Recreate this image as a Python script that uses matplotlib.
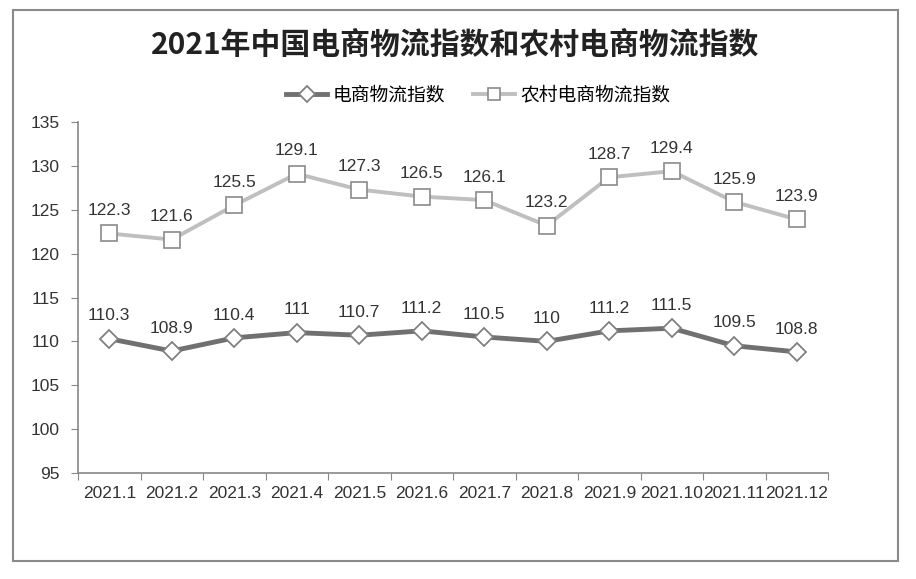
import matplotlib.pyplot as plt
from matplotlib.patches import Rectangle

plt.rcParams['font.family'] = ['Liberation Sans', 'Noto Sans CJK SC', 'DejaVu Sans']

months = ['2021.1', '2021.2', '2021.3', '2021.4', '2021.5', '2021.6',
          '2021.7', '2021.8', '2021.9', '2021.10', '2021.11', '2021.12']
ec_index = [110.3, 108.9, 110.4, 111, 110.7, 111.2, 110.5, 110, 111.2, 111.5, 109.5, 108.8]
rural_index = [122.3, 121.6, 125.5, 129.1, 127.3, 126.5, 126.1, 123.2, 128.7, 129.4, 125.9, 123.9]
ec_labels = ['110.3', '108.9', '110.4', '111', '110.7', '111.2', '110.5', '110', '111.2', '111.5', '109.5', '108.8']
rural_labels = ['122.3', '121.6', '125.5', '129.1', '127.3', '126.5', '126.1', '123.2', '128.7', '129.4', '125.9', '123.9']

fig = plt.figure(figsize=(9.16, 5.79), dpi=100)
fig.patch.set_facecolor('white')

# outer frame
fig.patches.append(Rectangle((13 / 916, 1 - 561 / 579), 885 / 916, 551 / 579,
                             transform=fig.transFigure, fill=False,
                             edgecolor='#8a8a8a', linewidth=1.5))

ax = fig.add_axes([78 / 916, 1 - 473 / 579, 750 / 916, 351 / 579])
x = list(range(len(months)))

ax.plot(x, ec_index, color='#707070', linewidth=3.5, marker='D', markersize=9,
        markerfacecolor='white', markeredgecolor='#808080', markeredgewidth=1.3,
        label='电商物流指数', zorder=3)
ax.plot(x, rural_index, color='#bfbfbf', linewidth=2.8, marker='s', markersize=11,
        markerfacecolor='white', markeredgecolor='#8a8a8a', markeredgewidth=1.2,
        label='农村电商物流指数', zorder=3)

for xi, v, t in zip(x, ec_index, ec_labels):
    ax.annotate(t, (xi, v), xytext=(0, 11), textcoords='offset points',
                ha='center', va='bottom', fontsize=12.5, color='#333333')
for xi, v, t in zip(x, rural_index, rural_labels):
    ax.annotate(t, (xi, v), xytext=(0, 11), textcoords='offset points',
                ha='center', va='bottom', fontsize=12.5, color='#333333')

ax.set_xlim(-0.5, len(months) - 0.5)
ax.set_ylim(95, 135)
ax.set_yticks(range(95, 136, 5))
ax.set_xticks([i - 0.5 for i in range(len(months) + 1)])
ax.set_xticklabels([])
ax.set_xticks(x, minor=True)
ax.set_xticklabels(months, minor=True)
ax.tick_params(axis='x', which='minor', length=0, pad=9, labelsize=12.5, labelcolor='#333333')
ax.tick_params(axis='x', which='major', length=5, color='#888888', direction='out')
ax.tick_params(axis='y', length=5, color='#888888', labelsize=12.5, labelcolor='#333333', pad=8)

for s in ['top', 'right']:
    ax.spines[s].set_visible(False)
for s in ['left', 'bottom']:
    ax.spines[s].set_color('#888888')
    ax.spines[s].set_linewidth(1.2)

fig.text(0.497, 1 - 45 / 579, '2021年中国电商物流指数和农村电商物流指数',
         ha='center', va='center', fontsize=21.5, fontweight='bold',
         family=['Noto Sans CJK SC'], color='#222222')

leg = fig.legend(loc='center', bbox_to_anchor=(0.522, 1 - 95 / 579), ncol=2,
                 frameon=False, handlelength=2.2, columnspacing=1.5,
                 handletextpad=0.3, prop={'family': ['Noto Sans CJK SC'], 'size': 13.5})
for h in leg.legend_handles:
    h.set_markersize(8)

fig.savefig('out.png', dpi=100)
